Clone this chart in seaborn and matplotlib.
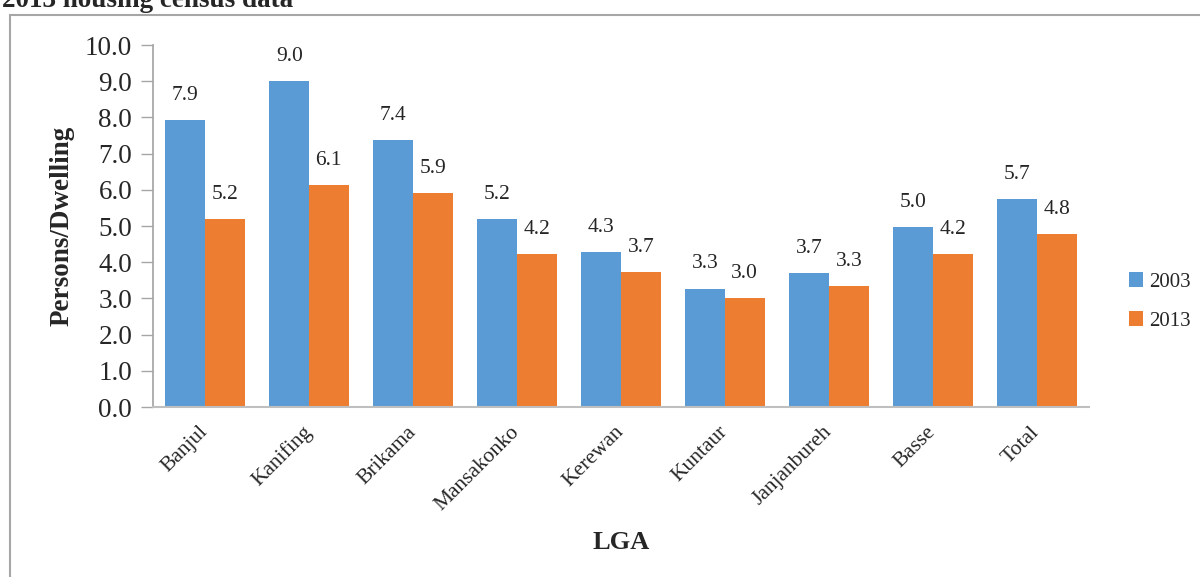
import pandas as pd
import seaborn as sns
import matplotlib.pyplot as plt
from matplotlib.patches import Patch, Rectangle

# data
lga = ['Banjul', 'Kanifing', 'Brikama', 'Mansakonko', 'Kerewan',
       'Kuntaur', 'Janjanbureh', 'Basse', 'Total']
years = ['2003', '2013']
pd_2003 = [7.92, 9.0, 7.37, 5.19, 4.27, 3.27, 3.70, 4.97, 5.74]
pd_2013 = [5.19, 6.13, 5.90, 4.22, 3.73, 3.01, 3.34, 4.22, 4.78]
colors = ['#5B9BD5', '#ED7D31']

df = pd.DataFrame({
    'LGA': lga * 2,
    'year': [years[0]] * len(lga) + [years[1]] * len(lga),
    'value': pd_2003 + pd_2013,
})

sns.set_theme(style='white')
plt.rcParams['font.family'] = ['Liberation Serif', 'DejaVu Serif']

fig = plt.figure(figsize=(12, 5.77), dpi=100)
ax = fig.add_axes([0.1275, 0.2946, 0.78, 0.6274])

sns.barplot(data=df, x='LGA', y='value', hue='year', palette=colors,
            width=0.76, saturation=1, linewidth=0, errorbar=None,
            legend=False, ax=ax)

for cont in ax.containers:
    ax.bar_label(cont, fmt='%.1f', padding=11, fontsize=15.5)

ax.set_ylim(0, 10)
ax.set_yticks([i for i in range(11)])
ax.set_yticklabels([f'{i:.1f}' for i in range(11)], fontsize=19.5)
ax.set_xlim(-0.5, len(lga) - 0.5)

for lab in ax.get_xticklabels():
    lab.set_rotation(45)
    lab.set_ha('right')
    lab.set_va('center')
    lab.set_rotation_mode('anchor')
    lab.set_fontsize(15.5)
ax.tick_params(axis='x', length=0, pad=16)
ax.tick_params(axis='y', length=9, width=1, color='#A6A6A6', left=True, pad=6)

for s in ['top', 'right']:
    ax.spines[s].set_visible(False)
ax.spines['left'].set_color('#A6A6A6')
ax.spines['bottom'].set_color('#BFBFBF')
ax.spines['bottom'].set_linewidth(1.5)

ax.set_xlabel('LGA', fontsize=19, fontweight='bold')
ax.set_ylabel('Persons/Dwelling', fontsize=19.5, fontweight='bold')
ax.xaxis.set_label_coords(0.5, -0.342)
ax.yaxis.set_label_coords(-0.0835, 0.5)

handles = [Patch(facecolor=c, edgecolor='none', label=y) for c, y in zip(colors, years)]
fig.legend(handles=handles, loc='center left', bbox_to_anchor=(0.925, 0.4775),
           frameon=False, fontsize=15, handlelength=0.7, handleheight=0.7,
           handletextpad=0.3, labelspacing=0.95)

# outer frame and cut-off caption
fig.patches.append(Rectangle((10 / 1200, -0.1), 1.2, 1 - 15 / 577 + 0.1,
                             transform=fig.transFigure, fill=False,
                             edgecolor='#A6A6A6', linewidth=1.5))
fig.text(2 / 1200, 1 - 7 / 577, '2013 housing census data', fontsize=19.5,
         fontweight='bold', ha='left', va='baseline')

fig.savefig('out.png', dpi=100)
